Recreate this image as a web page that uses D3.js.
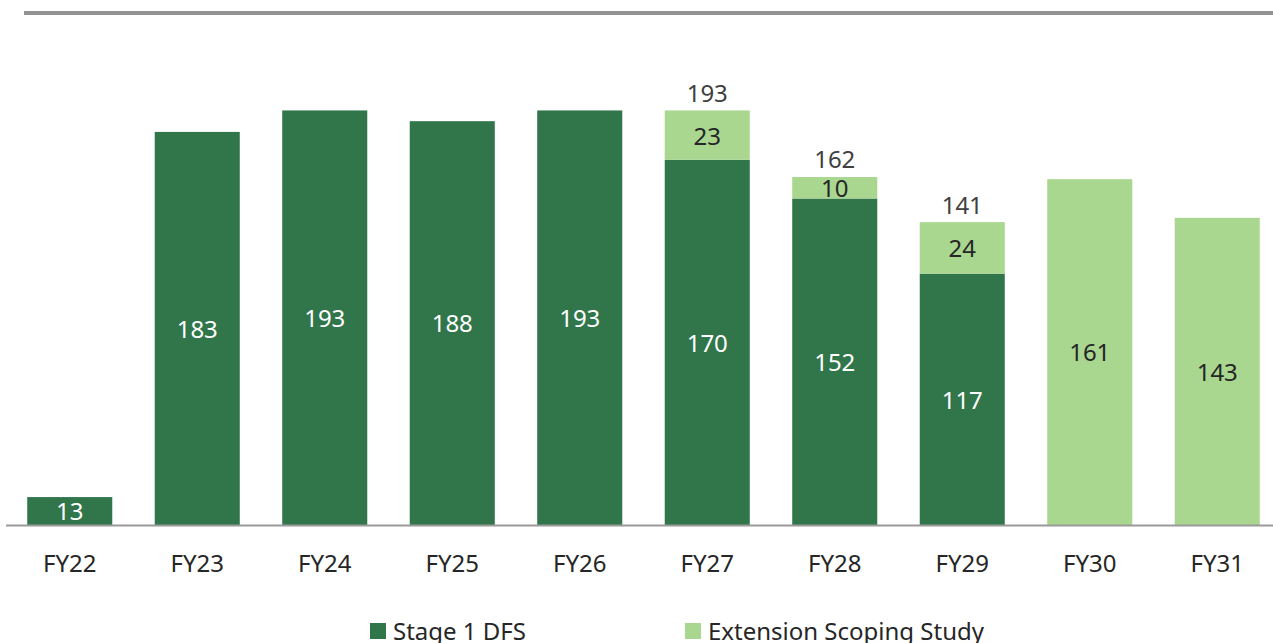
<!DOCTYPE html>
<html>
<head>
<meta charset="utf-8">
<script src="https://cdn.jsdelivr.net/npm/d3@7"></script>
<style>
  html, body { margin: 0; padding: 0; background: #fff; }
  svg { display: block; font-family: "Noto Sans", "Open Sans", sans-serif; }
</style>
</head>
<body>
<svg id="chart" width="1273" height="643"></svg>
<script>
// ---- data ----
const years = ["FY22", "FY23", "FY24", "FY25", "FY26", "FY27", "FY28", "FY29", "FY30", "FY31"];
const stage1 = [13, 183, 193, 188, 193, 170, 152, 117, 0, 0];
const extension = [0, 0, 0, 0, 0, 23, 10, 24, 161, 143];
const seriesNames = ["Stage 1 DFS", "Extension Scoping Study"];

const COLORS = { dark: "#31764b", light: "#a9d78f" };

const svg = d3.select("#chart");
const width = 1273, height = 643;
const baseY = 525;

// x: band scale, roughly 127.5px per category
const x = d3.scaleBand()
    .domain(years)
    .range([6, 1281])
    .paddingInner(0.333)
    .paddingOuter(0.1665);

const y = d3.scaleLinear()
    .domain([0, 200])
    .range([baseY, baseY - 200 * 2.148]);

// top rule
svg.append("line")
    .attr("x1", 24).attr("x2", width)
    .attr("y1", 13).attr("y2", 13)
    .attr("stroke", "#939393")
    .attr("stroke-width", 4);

const rows = years.map((yr, i) => ({ yr, s1: stage1[i], ext: extension[i] }));

const stack = d3.stack().keys(["s1", "ext"])(rows);
const fills = [COLORS.dark, COLORS.light];
const textFills = ["#ffffff", "#262626"];

stack.forEach((layer, li) => {
    const g = svg.append("g");
    layer.forEach(d => {
        const v = d[1] - d[0];
        if (v <= 0) return;
        g.append("rect")
            .attr("x", x(d.data.yr))
            .attr("width", x.bandwidth())
            .attr("y", y(d[1]))
            .attr("height", y(d[0]) - y(d[1]))
            .attr("fill", fills[li]);
        g.append("text")
            .attr("x", x(d.data.yr) + x.bandwidth() / 2)
            .attr("y", (y(d[0]) + y(d[1])) / 2 + 1)
            .attr("dy", "0.35em")
            .attr("text-anchor", "middle")
            .attr("font-size", 24)
            .attr("fill", textFills[li])
            .text(v);
    });
});

// totals above mixed bars
rows.filter(d => d.s1 > 0 && d.ext > 0).forEach(d => {
    svg.append("text")
        .attr("x", x(d.yr) + x.bandwidth() / 2)
        .attr("y", y(d.s1 + d.ext) - 17)
        .attr("dy", "0.35em")
        .attr("text-anchor", "middle")
        .attr("font-size", 24)
        .attr("fill", "#404040")
        .text(d.s1 + d.ext);
});

// x axis
const xAxis = svg.append("g")
    .attr("transform", `translate(0,${baseY})`)
    .call(d3.axisBottom(x).tickSize(0).tickPadding(30));
xAxis.select(".domain").remove();
xAxis.selectAll("text")
    .attr("font-size", 24)
    .attr("font-family", "\"Noto Sans\", sans-serif")
    .attr("fill", "#262626");

svg.append("line")
    .attr("x1", 6).attr("x2", width)
    .attr("y1", baseY + 0.5).attr("y2", baseY + 0.5)
    .attr("stroke", "#9a9a9a")
    .attr("stroke-width", 2);

// legend (cut at the bottom edge, as in the source)
const legendX = [370, 685];
seriesNames.forEach((name, i) => {
    const lg = svg.append("g").attr("transform", `translate(${legendX[i]},623)`);
    lg.append("rect")
        .attr("width", 16).attr("height", 16)
        .attr("fill", fills[i]);
    lg.append("text")
        .attr("x", 23).attr("y", 17)
        .attr("font-size", 24)
        .attr("fill", "#262626")
        .text(name);
});
</script>
</body>
</html>
